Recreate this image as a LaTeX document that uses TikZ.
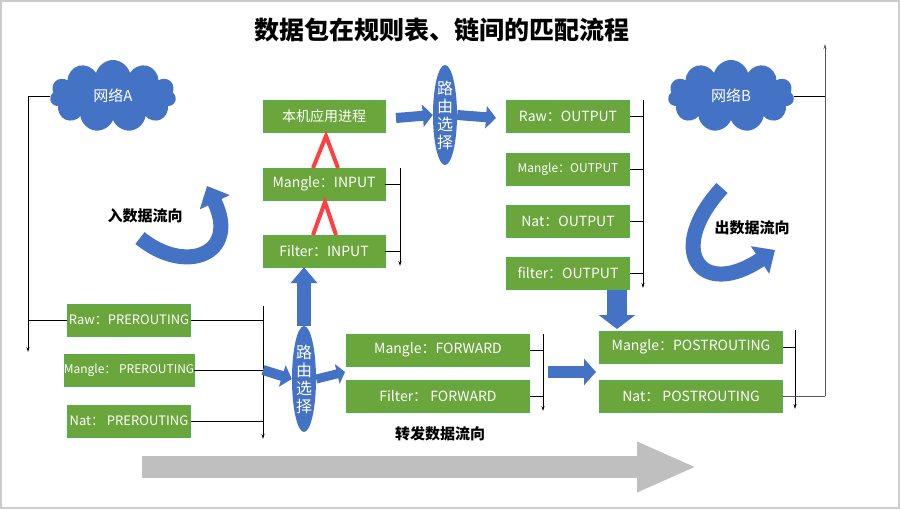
\documentclass[tikz,border=0pt]{standalone}
\usepackage{fontspec}
\setmainfont{Noto Sans CJK SC}
\usetikzlibrary{arrows.meta,shapes.geometric,shapes.symbols}
\definecolor{gbox}{HTML}{6AA63C}
\definecolor{bblue}{HTML}{4472C4}
\begin{document}
\begin{tikzpicture}[x=1pt,y=-1pt,
  box/.style={draw=green!40!gray,fill=gbox,text=white,minimum height=32pt,inner sep=0pt,font=\fontsize{14}{14}\selectfont},
  route/.style={ellipse,fill=bblue,text=white,minimum width=24pt,inner sep=0pt,align=center,font=\fontsize{16}{18}\selectfont},
  netcloud/.style={draw=none,fill=bblue,text=white,cloud,cloud puffs=11,aspect=1.9,minimum width=126pt,minimum height=72pt,font=\fontsize{15}{15}\selectfont},
  bar/.style={black,line width=0.8pt,-{Stealth[length=5pt,width=3pt]}},
  tick/.style={black,line width=0.8pt},
  blk/.style={bblue,line width=10pt,-{Triangle[length=10pt,width=22pt]}},
  lam/.style={red!75!white,line width=4pt},
  lbl/.style={font=\fontsize{15}{15}\selectfont\bfseries}]
\useasboundingbox (0,0) rectangle (900,509);
\draw[gray!40,line width=2pt] (1,1) rectangle (899,508);
\node[font=\fontsize{25}{25}\selectfont\bfseries] (title) at (442,30) {数据包在规则表、链间的匹配流程};
% clouds
\node[netcloud] (na) at (113,96) {网络A};
\node[netcloud] (nb) at (731,96) {网络B};
% input column
\node[box,minimum width=122pt] (app) at (324,116) {本机应用进程};
\node[box,minimum width=122pt] (mi) at (324,184) {Mangle：INPUT};
\node[box,minimum width=122pt] (fi) at (324,251) {Filter：INPUT};
\coordinate (bi1) at (400,168); \coordinate (bi2) at (400,266);
\draw[bar] (bi1) -- (bi2);
\draw[tick] (mi.east) -- (mi.east -| bi1);
\draw[tick] (fi.east) -- (fi.east -| bi1);
\draw[lam] (313,168) -- (326,136) -- (338,168);
\draw[lam] (313,235) -- (325,202) -- (336,235);
% route top
\node[route,minimum height=100pt] (r1) at (445,115) {路\\由\\选\\择};
\draw[blk] (396,118) coordinate (a1) -- (r1.west);
\draw[blk] (r1.east) -- (496,118) coordinate (a2);
% output column
\node[box,minimum width=123pt] (ro) at (568,116) {Raw：OUTPUT};
\node[box,minimum width=123pt,font=\fontsize{12}{12}\selectfont] (mo) at (568,169) {Mangle：OUTPUT};
\node[box,minimum width=123pt] (no) at (568,221) {Nat：OUTPUT};
\node[box,minimum width=123pt] (fo) at (568,273) {filter：OUTPUT};
\coordinate (bo1) at (643,100); \coordinate (bo2) at (643,288);
\draw[bar] (bo1) -- (bo2);
\foreach \n in {ro,mo,no,fo} \draw[tick] (\n.east) -- (\n.east -| bo1);
% prerouting
\node[box,minimum width=123pt,font=\fontsize{13}{13}\selectfont] (rp) at (129,320) {Raw：PREROUTING};
\node[box,minimum width=123pt,font=\fontsize{12}{12}\selectfont] (mp) at (129,370) {Mangle：\ PREROUTING};
\node[box,minimum width=123pt,font=\fontsize{13}{13}\selectfont] (np) at (129,421) {Nat：\ PREROUTING};
\coordinate (bp1) at (263,306); \coordinate (bp2) at (263,439);
\draw[bar] (bp1) -- (bp2);
\foreach \n in {rp,mp,np} \draw[tick] (\n.east) -- (\n.east -| bp1);
\coordinate (la) at (28,352);
\draw[bar] (na.west) -| (la);
\draw[tick] (rp.west) -- (rp.west -| la);
% route bottom
\node[route,minimum height=106pt] (r2) at (304,379) {路\\由\\选\\择};
\draw[blk,line width=14pt,-{Triangle[length=16pt,width=26pt]}] (r2.north) -- (r2.north |- fi.south);
\draw[blk] (bp1 |- mp.east) -- (r2.west);
\draw[blk,line width=9pt,-{Triangle[length=8pt,width=20pt]}] (r2.east) -- (345,372) coordinate (a3);
% forward
\node[box,minimum width=183pt] (mf) at (438,350) {Mangle：FORWARD};
\node[box,minimum width=183pt] (ff) at (438,396) {Filter：\ FORWARD};
\coordinate (bf1) at (543,334); \coordinate (bf2) at (543,411);
\draw[bar] (bf1) -- (bf2);
\foreach \n in {mf,ff} \draw[tick] (\n.east) -- (\n.east -| bf1);
\node[lbl] (fwd) at (440,434) {转发数据流向};
% postrouting
\node[box,minimum width=183pt] (mpo) at (691,347) {Mangle：POSTROUTING};
\node[box,minimum width=183pt] (npo) at (691,396) {Nat：\ POSTROUTING};
\coordinate (bq1) at (795,330); \coordinate (bq2) at (795,409);
\draw[bar] (bq1) -- (bq2);
\foreach \n in {mpo,npo} \draw[tick] (\n.east) -- (\n.east -| bq1);
\draw[blk,line width=12pt,-{Triangle[length=12pt,width=26pt]}] (548,372) coordinate (a4) -- (596,372) coordinate (a5);
\draw[blk,line width=20pt,-{Triangle[length=14pt,width=36pt]}] (617,290) coordinate (a6) -- (617,329) coordinate (a7);
\coordinate (rb) at (825,44);
\draw[tick,gray!70!black] (npo.east) -- (npo.east -| rb);
\draw[bar,gray!70!black] (825,396) -- (rb);
\draw[tick] (nb.east) -- (nb.east -| rb);
% curved arrows
\node[lbl] (in) at (145,216) {入数据流向};
\draw[bblue,line width=15pt,-{Triangle[length=18pt,width=32pt]}] (140,238) .. controls (185,275) and (240,255) .. (207,186) coordinate (a8);
\node[lbl] (out) at (752,228) {出数据流向};
\draw[bblue,line width=15pt,-{Triangle[length=18pt,width=32pt]}] (722,188) .. controls (665,250) and (700,300) .. (775,250) coordinate (a9);
% big gray arrow
\draw[gray!50,line width=22pt,-{Triangle[length=60pt,width=46pt]}] (142,467) coordinate (g1) -- (697,467) coordinate (g2);
\end{tikzpicture}
\end{document}
